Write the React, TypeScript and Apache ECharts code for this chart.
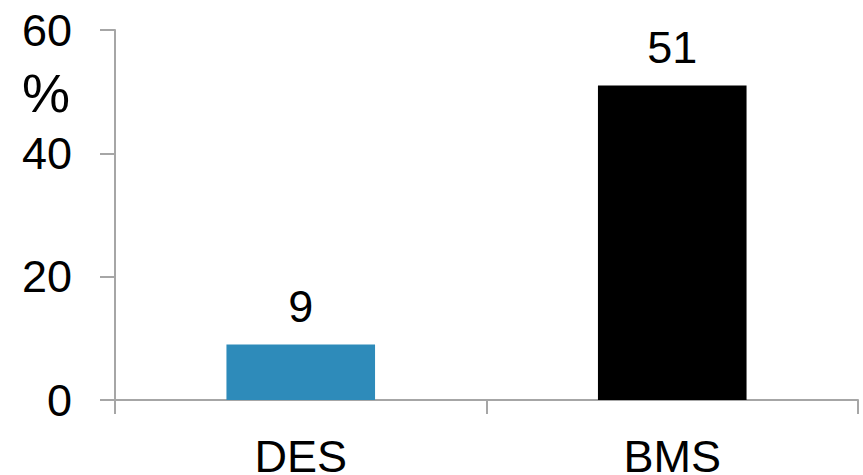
import React, { useEffect, useRef } from "react";
import * as echarts from "echarts";

const categories = ["DES", "BMS"];
const values = [9, 51];
const barColors = ["#2e8bba", "#000000"];
const yTicks = { min: 0, max: 60, interval: 20 };
const unitLabel = "%";

export default function App() {
  const ref = useRef<HTMLDivElement>(null);

  useEffect(() => {
    if (!ref.current) return;
    const chart = echarts.init(ref.current, null, { renderer: "svg" });
    const font = "'Liberation Sans', Arial, sans-serif";
    const axisGray = "#a6a6a6";
    chart.setOption({
      animation: false,
      backgroundColor: "#ffffff",
      grid: {
        left: 115,
        right: 5,
        top: 30,
        bottom: 75,
        containLabel: false,
        outerBoundsMode: "none",
      },
      xAxis: {
        type: "category",
        data: categories,
        axisLine: { show: true, lineStyle: { color: axisGray, width: 2 } },
        axisTick: { show: true, length: 14, inside: false, lineStyle: { color: axisGray, width: 2 } },
        axisLabel: { color: "#000", fontSize: 45, lineHeight: 45, fontFamily: font, margin: 34 },
        splitLine: { show: false },
      },
      yAxis: {
        type: "value",
        min: yTicks.min,
        max: yTicks.max,
        interval: yTicks.interval,
        axisLine: { show: true, lineStyle: { color: axisGray, width: 2 } },
        axisTick: { show: true, length: 15, inside: false, lineStyle: { color: axisGray, width: 2 } },
        axisLabel: { color: "#000", fontSize: 45, fontFamily: font, margin: 43 },
        splitLine: { show: false },
      },
      series: [
        {
          type: "bar",
          barWidth: "40%",
          data: values.map((v, i) => ({ value: v, itemStyle: { color: barColors[i] } })),
          label: {
            show: true,
            position: "top",
            distance: 16,
            color: "#000",
            fontSize: 45,
            fontFamily: font,
          },
        },
      ],
      graphic: [
        {
          type: "text",
          left: 22,
          top: 66,
          style: { text: unitLabel, fontSize: 54, fontFamily: font, fill: "#000" },
        },
      ],
    });
    return () => chart.dispose();
  }, []);

  return <div ref={ref} style={{ width: 863, height: 475, position: "absolute", left: 0, top: 0 }} />;
}
